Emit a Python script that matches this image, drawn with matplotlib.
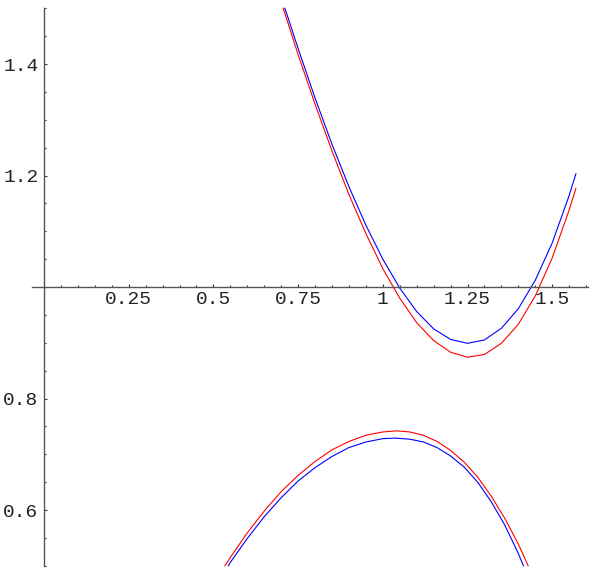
import matplotlib
matplotlib.use("Agg")
import matplotlib.pyplot as plt
import numpy as np

# upper branch
up_x_red = [0.706, 0.75, 0.80, 0.85, 0.90, 0.95, 1.00, 1.05, 1.10, 1.15, 1.20, 1.25,
            1.30, 1.35, 1.40, 1.45, 1.50, 1.55, 1.570]
up_y_red = [1.500, 1.417, 1.328, 1.244, 1.166, 1.096, 1.033, 0.980, 0.936, 0.904, 0.883, 0.874,
            0.879, 0.899, 0.933, 0.984, 1.052, 1.138, 1.177]
up_x_blue = [0.711, 0.75, 0.80, 0.85, 0.90, 0.95, 1.00, 1.05, 1.10, 1.15, 1.20, 1.25,
             1.30, 1.35, 1.40, 1.45, 1.50, 1.55, 1.570]
up_y_blue = [1.500, 1.428, 1.339, 1.256, 1.180, 1.111, 1.050, 0.998, 0.956, 0.925, 0.906, 0.899,
             0.905, 0.926, 0.961, 1.012, 1.079, 1.164, 1.203]

# lower branch
lo_x_red = [0.534, 0.55, 0.60, 0.65, 0.70, 0.75, 0.80, 0.85, 0.90, 0.95, 1.00, 1.041,
            1.08, 1.12, 1.16, 1.20, 1.24, 1.28, 1.32, 1.36, 1.40, 1.429]
lo_y_red = [0.500, 0.515, 0.559, 0.598, 0.633, 0.662, 0.687, 0.708, 0.723, 0.734, 0.740, 0.742,
            0.740, 0.734, 0.723, 0.707, 0.686, 0.659, 0.625, 0.585, 0.539, 0.500]
lo_x_blue = [0.544, 0.55, 0.60, 0.65, 0.70, 0.75, 0.80, 0.85, 0.90, 0.95, 1.00, 1.036,
             1.08, 1.12, 1.16, 1.20, 1.24, 1.28, 1.32, 1.36, 1.40, 1.415]
lo_y_blue = [0.500, 0.506, 0.549, 0.588, 0.622, 0.652, 0.676, 0.696, 0.712, 0.722, 0.728, 0.729,
             0.727, 0.722, 0.712, 0.697, 0.677, 0.650, 0.615, 0.573, 0.522, 0.500]

xticks = [0.25, 0.5, 0.75, 1, 1.25, 1.5]
xlabels = ["0.25", "0.5", "0.75", "1", "1.25", "1.5"]
yticks = [0.6, 0.8, 1.2, 1.4]
ylabels = ["0.6", "0.8", "1.2", "1.4"]

fig = plt.figure(figsize=(6.04, 5.72), dpi=100)
ax = fig.add_axes([0, 0, 1, 1])
ax.set_xlim(-0.1299, 1.6529)
ax.set_ylim(0.4888, 1.5148)
ax.patch.set_visible(False)

lw = 0.8
ax.plot(up_x_red, up_y_red, color="#ff0000", lw=lw)
ax.plot(up_x_blue, up_y_blue, color="#0000ff", lw=lw)
ax.plot(lo_x_red, lo_y_red, color="#ff0000", lw=lw)
ax.plot(lo_x_blue, lo_y_blue, color="#0000ff", lw=lw)

for s in ["top", "right"]:
    ax.spines[s].set_visible(False)
ax.spines["left"].set_position(("data", 0))
ax.spines["bottom"].set_position(("data", 1))
ax.spines["left"].set_bounds(0.5, 1.5)
ax.spines["bottom"].set_bounds(-0.035, 1.606)
for s in ["left", "bottom"]:
    ax.spines[s].set_color("#555555")
    ax.spines[s].set_linewidth(1.0)

ax.set_xticks(xticks)
ax.set_xticklabels(xlabels)
ax.set_yticks(yticks)
ax.set_yticklabels(ylabels)
ax.set_xticks(np.arange(0.05, 1.61, 0.05), minor=True)
ax.set_yticks(np.arange(0.5, 1.51, 0.05), minor=True)

ax.tick_params(which="both", direction="in", color="#333333", width=0.8)
ax.tick_params(which="major", length=2.5)
ax.tick_params(which="minor", length=1.5)
ax.tick_params(axis="x", pad=3)
ax.tick_params(axis="y", pad=4)
for lab in ax.get_xticklabels() + ax.get_yticklabels():
    lab.set_fontfamily("Liberation Mono")
    lab.set_fontsize(14)
    lab.set_color("#222222")

fig.savefig("out.png", dpi=100)
